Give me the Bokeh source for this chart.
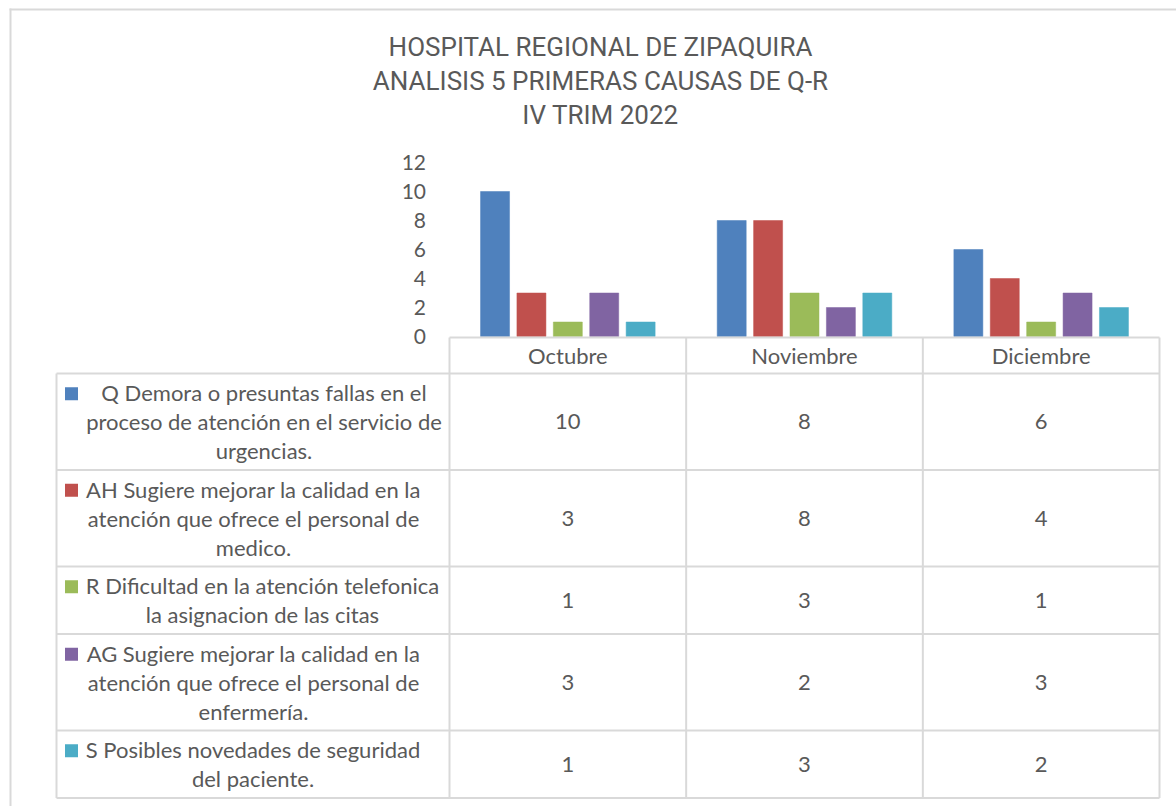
from bokeh.plotting import figure
from bokeh.models import ColumnDataSource, Range1d
from bokeh.transform import dodge
from bokeh.core.properties import value
from bokeh.embed import file_html
from bokeh.resources import INLINE

# ---------------- data ----------------
title_lines = ["HOSPITAL REGIONAL DE ZIPAQUIRA",
               "ANALISIS 5 PRIMERAS CAUSAS DE Q-R",
               "IV TRIM 2022"]
months = ["Octubre", "Noviembre", "Diciembre"]
series_codes = ["Q", "AH", "R", "AG", "S"]
series_label_lines = [
    ["Q Demora o presuntas fallas en el", "proceso de atención en el servicio de", "urgencias."],
    ["AH Sugiere mejorar la calidad en la", "atención que ofrece el personal de", "medico."],
    ["R Dificultad en la atención telefonica", "la asignacion de las citas"],
    ["AG Sugiere mejorar la calidad en la", "atención que ofrece el personal de", "enfermería."],
    ["S Posibles novedades de seguridad", "del paciente."],
]
q_vals = [10, 8, 6]
ah_vals = [3, 8, 4]
r_vals = [1, 3, 1]
ag_vals = [3, 2, 3]
s_vals = [1, 3, 2]
y_ticks = [0, 2, 4, 6, 8, 10, 12]

series_values = [q_vals, ah_vals, r_vals, ag_vals, s_vals]
colors = ["#4F81BD", "#C0504D", "#9BBB59", "#8064A2", "#4BACC6"]

TEXT = "#595959"
GRID = "#d9d9d9"
TFONT = "Lato"

# ---------------- layout (pixel space, origin at top-left of the figure) ----------------
W, H = 1176, 806
PLOT_L, PLOT_R = 449, 1159     # category area
Y0_PX, Y12_PX = 336, 162       # pixel rows of value 0 and value 12
CELL = (PLOT_R - PLOT_L) / len(months)
PX_UNIT = (Y0_PX - Y12_PX) / 12.0

p = figure(width=W, height=H, x_range=Range1d(0, W), y_range=Range1d(H, 0),
           output_backend="svg", toolbar_location=None,
           x_axis_location=None, y_axis_location=None, min_border=0,
           outline_line_color=None, background_fill_color="white",
           border_fill_color="white")
p.grid.visible = False

# value scales for the bar chart (mapped onto the chart area of the canvas)
p.extra_x_ranges = {"bars": Range1d(-PLOT_L / CELL, len(months) + (W - PLOT_R) / CELL)}
p.extra_y_ranges = {"bars": Range1d((Y0_PX - H) / PX_UNIT, Y0_PX / PX_UNIT)}

src = ColumnDataSource(data=dict(month=months,
                                 xc=[i + 0.5 for i in range(len(months))],
                                 **{c: v for c, v in zip(series_codes, series_values)}))
step = 36.4 / CELL
bw = 29.0 / CELL
for i, (code, col) in enumerate(zip(series_codes, colors)):
    p.vbar(x=dodge("xc", (i - 2) * step), top=code, bottom=0, width=bw, source=src,
           fill_color=col, line_color=col, line_width=0.5,
           x_range_name="bars", y_range_name="bars")

# value axis labels
p.text(x=[425.5] * len(y_ticks), y=y_ticks, text=[str(t) for t in y_ticks],
       y_range_name="bars", text_align="right", text_baseline="middle",
       text_font=value(TFONT), text_font_size="21px", text_color=TEXT)

# title
for k, t in enumerate(title_lines):
    p.text(x=[600], y=[46 + 34 * k], text=[t], text_align="center", text_baseline="middle",
           text_font=value("Roboto"), text_font_size="26px", text_color=TEXT)

# ---------------- data table ----------------
col_edges = [PLOT_L + i * CELL for i in range(len(months) + 1)]
col_centers = [(col_edges[i] + col_edges[i + 1]) / 2 for i in range(len(months))]
table_left = 56
header_top = 337
header_bot = 373
line_h = 29
row_tops = [header_bot]
for lines in series_label_lines:
    row_tops.append(row_tops[-1] + 9.5 + line_h * len(lines))
table_bot = row_tops[-1]

x0, y0, x1, y1 = [], [], [], []
x0.append(col_edges[0]); x1.append(col_edges[-1]); y0.append(header_top); y1.append(header_top)
for yy in row_tops:
    x0.append(table_left); x1.append(col_edges[-1]); y0.append(yy); y1.append(yy)
for xx in col_edges:
    x0.append(xx); x1.append(xx); y0.append(header_top); y1.append(table_bot)
x0.append(table_left); x1.append(table_left); y0.append(header_bot); y1.append(table_bot)
# outer chart border (top and left edges)
x0.append(10); x1.append(10); y0.append(8); y1.append(H + 5)
x0.append(9); x1.append(W + 5); y0.append(9); y1.append(9)
p.segment(x0=x0, y0=y0, x1=x1, y1=y1, line_color=GRID, line_width=2)

# header
p.text(x=col_centers, y=[(header_top + header_bot) / 2] * len(months),
       text=months, text_align="center", text_baseline="middle",
       text_font=value(TFONT), text_font_size="22px", text_color=TEXT)

label_cx = [263.5, 253, 262, 253, 252.5]
tx, ty, tt = [], [], []
lx, ly, lt = [], [], []
sq_x, sq_y = [], []
for i, (lines, vals) in enumerate(zip(series_label_lines, series_values)):
    top, bot = row_tops[i], row_tops[i + 1]
    mid = (top + bot) / 2
    for c, v in zip(col_centers, vals):
        tx.append(c); ty.append(mid); tt.append(str(v))
    first = mid - (len(lines) - 1) * line_h / 2
    for k, ln in enumerate(lines):
        lx.append(label_cx[i]); ly.append(first + k * line_h); lt.append(ln)
    sq_x.append(71); sq_y.append(first + 1)

p.text(x=tx, y=ty, text=tt, text_align="center", text_baseline="middle",
       text_font=value(TFONT), text_font_size="22px", text_color=TEXT)
p.text(x=lx, y=ly, text=lt, text_align="center", text_baseline="middle",
       text_font=value(TFONT), text_font_size="22px", text_color=TEXT)
p.rect(x=sq_x, y=sq_y, width=13, height=13, width_units="screen", height_units="screen",
       fill_color=colors, line_color=None)

open("out.html", "w").write(file_html(p, INLINE))
